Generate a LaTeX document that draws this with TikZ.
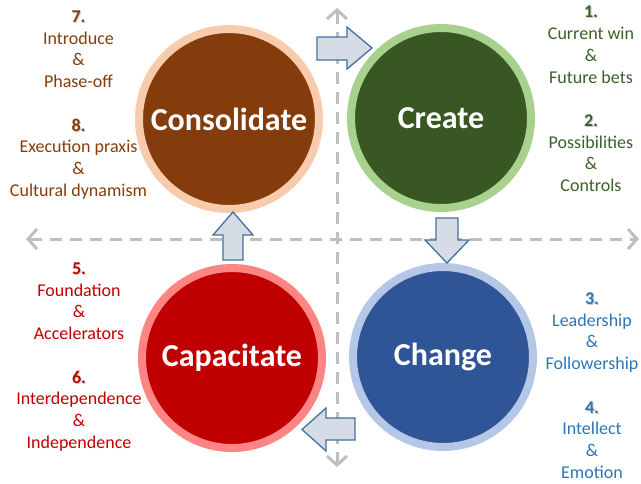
\documentclass[tikz,border=0pt]{standalone}
\usepackage{fontspec}
\setmainfont{Carlito}
\usetikzlibrary{arrows.meta}
\definecolor{cBrown}{HTML}{843C0C}
\definecolor{rBrown}{HTML}{F8CBAD}
\definecolor{cGreen}{HTML}{385723}
\definecolor{rGreen}{HTML}{A9D18E}
\definecolor{tGreen}{HTML}{3B6128}
\definecolor{cBlue}{HTML}{2F5597}
\definecolor{rBlue}{HTML}{B4C7E7}
\definecolor{tBlue}{HTML}{2E75B6}
\definecolor{cRed}{HTML}{C00000}
\definecolor{rRed}{HTML}{FF8585}
\definecolor{axisGray}{HTML}{BFBFBF}
\definecolor{blkFill}{HTML}{D6DCE5}
\definecolor{blkDraw}{HTML}{41719C}
\definecolor{shadowGray}{HTML}{C8C8C8}
\newcommand\stepnum[1]{{\bfseries\rlap{\hspace{1pt}\raisebox{-1pt}{\color{shadowGray}#1}}#1}}
\begin{document}
\begin{tikzpicture}[x=1pt,y=-1pt,
  phase/.style={circle, inner sep=0pt, minimum size=180pt, line width=8pt,
    text=white, font=\fontsize{32}{36}\selectfont\bfseries},
  sidetext/.style={align=center, inner sep=0pt, font=\fontsize{18}{21.7}\selectfont},
  axis/.style={draw=axisGray, line width=3pt, dash pattern=on 12pt off 8pt,
    {Straight Barb[length=9pt,width=20pt]}-{Straight Barb[length=9pt,width=20pt]}},
  blockarrow/.style={fill=blkFill, draw=blkDraw, line width=1.3pt, line join=miter}]
\useasboundingbox (0,0) rectangle (641,483);

% axes
\coordinate (vtop) at (337,8);
\coordinate (vbot) at (337,467);
\coordinate (hleft) at (26,239);
\coordinate (hright) at (639,239);
\draw[axis] (hleft) -- (hright);
\draw[axis] (vtop) -- (vbot);

% phases
\node[phase, fill=cBrown, draw=rBrown] (consolidate) at (229,119) {Consolidate};
\node[phase, fill=cGreen, draw=rGreen] (create) at (441,118) {Create};
\node[phase, fill=cRed, draw=rRed] (capacitate) at (232,358) {Capacitate};
\node[phase, fill=cBlue, draw=rBlue] (change) at (443,357) {Change};

% block arrows
\draw[blockarrow] (317,37) -- (347,37) -- (347,27) -- (372,48) -- (347,69) -- (347,60) -- (317,60) -- cycle;
\draw[blockarrow] (436,218) -- (458,218) -- (458,240) -- (469,240) -- (447,263) -- (425,240) -- (436,240) -- cycle;
\draw[blockarrow] (223,260) -- (243,260) -- (243,235) -- (253,235) -- (233,212) -- (213,235) -- (223,235) -- cycle;
\draw[blockarrow] (355,418) -- (326,418) -- (326,408) -- (302,429.5) -- (326,451) -- (326,440) -- (355,440) -- cycle;

% side texts
\node[sidetext, text=cBrown] (t78) at (78.5,105)
  {\stepnum{7.}\\Introduce\\\&\\Phase-off\\[21.7pt]\stepnum{8.}\\Execution praxis\\\&\\Cultural dynamism};
\node[sidetext, text=tGreen] (t12) at (591,99)
  {\stepnum{1.}\\Current win\\\&\\Future bets\\[21.7pt]\stepnum{2.}\\Possibilities\\\&\\Controls};
\node[sidetext, text=cRed] (t56) at (79,357)
  {\stepnum{5.}\\Foundation\\\&\\Accelerators\\[21.7pt]\stepnum{6.}\\Interdependence\\\&\\Independence};
\node[sidetext, text=tBlue] (t34) at (592,385.5)
  {\stepnum{3.}\\Leadership\\\&\\Followership\\[21.7pt]\stepnum{4.}\\Intellect\\\&\\Emotion};
\end{tikzpicture}
\end{document}
